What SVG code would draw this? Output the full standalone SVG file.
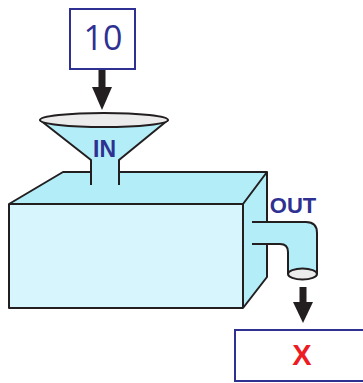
<svg xmlns="http://www.w3.org/2000/svg" width="363" height="383" viewBox="0 0 363 383">
  <style>
    .ln{stroke:#231f20;stroke-width:2;stroke-linejoin:round;fill:none}
    .water{fill:#b3eef8}
    .front{fill:#d6f5fc}
    .rim{fill:#ececec;stroke:#231f20;stroke-width:2}
    .box{fill:#ffffff;stroke:#2e3192;stroke-width:2}
    .lbl{font-family:"Liberation Sans",Arial,sans-serif;font-weight:bold;fill:#2e3192}
    .arrow{fill:#231f20}
  </style>
  <rect width="363" height="383" fill="#ffffff"/>
  <g id="tank">
    <polygon class="water" points="9,204 63,172 267,172 243,204"/>
    <polygon class="water" points="243,204 267,172 267,277 243,308"/>
    <rect class="front" x="9" y="204" width="234" height="104"/>
    <polyline class="ln" points="91,172 63,172 9,204 9,308 243,308 267,277 267,172 119,172"/>
    <polyline class="ln" points="9,204 243,204 267,172"/>
    <line class="ln" x1="243" y1="204" x2="243" y2="308"/>
  </g>
  <g id="funnel">
    <polygon class="water" points="40,120 168,120 119,160 119,185 91,185 91,160"/>
    <polyline class="ln" points="40,120 91,160 91,185"/>
    <polyline class="ln" points="168,120 119,160 119,185"/>
    <ellipse class="rim" cx="104" cy="120" rx="64" ry="7"/>
    <text class="lbl" x="104.5" y="157" font-size="23" text-anchor="middle">IN</text>
  </g>
  <g id="pipe">
    <path class="water" d="M252,222 H306 Q317,222 317,233 V274 H288 V252 Q288,244 280,244 H252 Z"/>
    <path class="ln" d="M252,222 H306 Q317,222 317,233 V274"/>
    <path class="ln" d="M252,244 H280 Q288,244 288,252 V274"/>
    <ellipse class="rim" cx="302.5" cy="274" rx="14.5" ry="5.5"/>
    <text class="lbl" x="293" y="213" font-size="22" text-anchor="middle">OUT</text>
  </g>
  <g id="box10">
    <rect class="box" x="70" y="9" width="65" height="60"/>
    <text x="103" y="50" font-family="'Open Sans','Liberation Sans',sans-serif" font-size="34" fill="#2e3192" text-anchor="middle">10</text>
  </g>
  <g id="boxX">
    <rect class="box" x="235" y="330" width="140" height="51"/>
    <text x="302" y="365" font-family="'Liberation Sans',Arial,sans-serif" font-weight="bold" font-size="29" fill="#ed1c24" text-anchor="middle">X</text>
  </g>
  <g id="connectors">
    <rect class="arrow" x="98.5" y="70" width="7" height="19"/>
    <polygon class="arrow" points="92,87 112,87 102,110"/>
    <rect class="arrow" x="299.5" y="287" width="7" height="17"/>
    <polygon class="arrow" points="293,302 313,302 303,323"/>
  </g>
</svg>
